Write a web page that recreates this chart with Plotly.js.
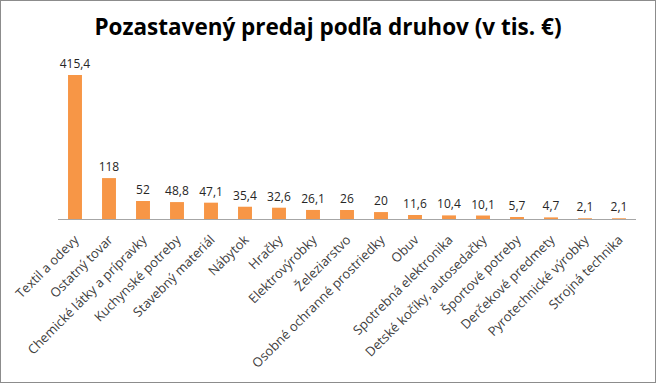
<!DOCTYPE html>
<html><head><meta charset="utf-8">
<script src="https://cdn.plot.ly/plotly-3.0.1.min.js"></script>
<style>
html,body{margin:0;padding:0;background:#fff;}
#wrap{position:relative;width:656px;height:383px;}
#frame{position:absolute;left:0;top:0;width:656px;height:383px;box-sizing:border-box;border:1px solid #8c8c8c;pointer-events:none;}
</style>
</head><body>
<div id="wrap"><div id="chart" style="width:656px;height:383px;"></div><div id="frame"></div></div>
<script>
const categories = ["Textil a odevy","Ostatný tovar","Chemické látky a prípravky","Kuchynské potreby","Stavebný materiál","Nábytok","Hračky","Elektrovýrobky","Železiarstvo","Osobné ochranné prostriedky","Obuv","Spotrebná elektronika","Detské kočíky, autosedačky","Športové potreby","Derčekové predmety","Pyrotechnické výrobky","Strojná technika"];
const values = [415.4,118,52,48.8,47.1,35.4,32.6,26.1,26,20,11.6,10.4,10.1,5.7,4.7,2.1,2.1];
const labels = values.map(v => String(v).replace('.', ','));

const trace = {
  type: 'bar', x: categories, y: values, text: labels,
  textposition: 'outside', cliponaxis: false, constraintext: 'none',
  textfont: {family: 'Open Sans, sans-serif', size: 12, color: '#262626'},
  marker: {color: '#F79646'}, hoverinfo: 'none'
};
const layout = {
  width: 656, height: 383,
  margin: {l: 58, r: 20, t: 63, b: 164},
  paper_bgcolor: '#ffffff', plot_bgcolor: '#ffffff',
  bargap: 0.59, showlegend: false,
  uniformtext: {mode: false},
  title: {text: '<b>Pozastavený predaj podľa druhov (v tis. €)</b>', x: 0.5, xanchor: 'center', y: 0.93, yanchor: 'middle',
    font: {family: 'Open Sans, sans-serif', size: 22.5, color: '#000000'}},
  xaxis: {type: 'category', tickangle: -45, showline: true, linecolor: '#a6a6a6', linewidth: 1,
    ticks: '', ticklabelstandoff: 7, showgrid: false, zeroline: false, automargin: false,
    tickfont: {family: 'Open Sans, sans-serif', size: 13, color: '#404040'}},
  yaxis: {range: [0, 450], visible: false, showgrid: false, zeroline: false, fixedrange: true}
};
Plotly.newPlot('chart', [trace], layout, {displayModeBar: false, staticPlot: true});
</script>
</body></html>
